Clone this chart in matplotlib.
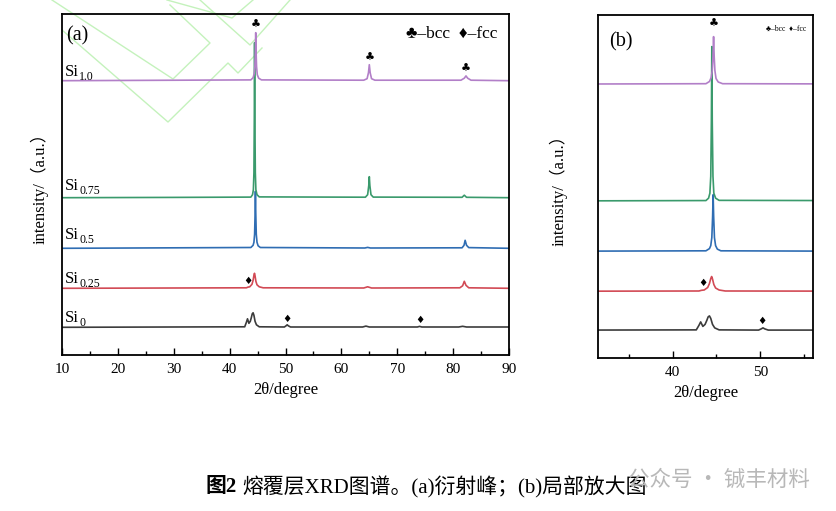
import numpy as np
import matplotlib.pyplot as plt
from matplotlib.ticker import MultipleLocator

plt.rcParams['font.family'] = ['Liberation Serif', 'Noto Sans CJK SC', 'DejaVu Sans']

# offsets of each pattern (arbitrary units, axis 0..341)
names = ['0', '0.25', '0.5', '0.75', '1.0']
offsets = [27.7, 66.7, 106.7, 157.3, 274.3]
colors = ['#3c3c3c', '#d24a55', '#2f6db3', '#3a9a6c', '#b27fc8']

# 2theta / intensity anchor points
x_si0 = [10, 42.7, 43.0, 43.2, 43.45, 43.7, 43.9, 44.05, 44.2, 44.35, 44.55, 44.8, 45.3, 49.8, 50.1, 50.3,
         50.5, 50.9, 63.8, 64.4, 65.0, 73.6, 74.0, 74.4, 81.0, 81.7, 82.4, 90]
y_si0 = [0, 0.5, 5, 8.5, 4, 6, 10, 13.5, 14.5, 12, 6, 2.5, 0.5, 0.3, 1.5, 2.5,
         1.5, 0.3, 0.3, 1.2, 0.3, 0.3, 0.9, 0.3, 0.3, 1, 0.3, 0.3]
x_si025 = [10, 43.0, 43.3, 43.6, 44.0, 44.2, 44.35, 44.45, 44.55, 44.7, 44.9, 45.3, 46, 64.0, 64.7, 65.4,
           81.2, 81.7, 82.0, 82.3, 82.8, 90]
y_si025 = [0, 0.5, 1.2, 1.5, 4, 8, 13, 15, 12.5, 7, 3.5, 1.5, 0.5, 0.3, 1.5, 0.3,
           0.5, 2.5, 7, 3, 0.5, 0]
x_si05 = [10, 43.8, 44.2, 44.35, 44.47, 44.56, 44.62, 44.68, 44.77, 44.9, 45.1, 45.5, 64.2, 64.7, 65.2,
          81.6, 81.95, 82.15, 82.4, 82.8, 90]
y_si05 = [0, 0.8, 3, 6, 14, 35, 57, 35, 14, 6, 2.5, 0.8, 0.3, 0.9, 0.3,
          0.5, 3, 8, 3, 0.7, 0]
x_si075 = [10, 30, 43.8, 44.1, 44.25, 44.35, 44.42, 44.47, 44.52, 44.6, 44.7, 44.9, 45.3, 64.3, 64.7,
           64.9, 65.0, 65.1, 65.3, 65.7, 81.6, 82.0, 82.4, 90]
y_si075 = [0, 0.3, 0.6, 3, 8, 25, 80, 155, 80, 25, 8, 3, 0.8, 0.5, 3,
           12, 21, 12, 3, 0.6, 0.4, 2.5, 0.4, 0]
x_si10 = [10, 43.8, 44.2, 44.4, 44.52, 44.6, 44.67, 44.74, 44.82, 44.95, 45.2, 45.7, 64.0, 64.6, 64.85,
          65.0, 65.15, 65.4, 66.0, 81.4, 82.0, 82.3, 82.6, 83.2, 90]
y_si10 = [0, 0.8, 3, 7, 14, 28, 48, 28, 14, 6, 2.5, 0.8, 0.5, 2, 8,
          16, 8, 2, 0.5, 0.5, 2.5, 4.8, 2.5, 0.5, 0]
xs = [x_si0, x_si025, x_si05, x_si075, x_si10]
ys = [y_si0, y_si025, y_si05, y_si075, y_si10]

# phase markers (2theta, height)
bcc_a = [(44.7, 330), (65.0, 297), (82.3, 286)]
fcc_a = [(43.3, 74), (50.3, 36), (74.0, 35)]
bcc_b = [(44.65, 335)]
fcc_b = [(43.4, 75), (50.2, 37)]

fig = plt.figure(figsize=(8.37, 5.11), dpi=100)

# faint watermark lines (figure pixels)
wm = [[(52, 0), (173, 79), (210, 43), (170, 5)],
      [(62, 30), (168, 122), (228, 63), (238, 73), (262, 48)],
      [(167, 0), (232, 18), (253, 0)],
      [(200, 0), (250, 45), (290, 0)]]
for pts in wm:
    px = [p[0] / 837 for p in pts]
    py = [1 - p[1] / 511 for p in pts]
    fig.add_artist(plt.Line2D(px, py, color='#c4f2bc', lw=1.0, zorder=0))

axa = fig.add_axes([62 / 837, 1 - 355 / 511, 447 / 837, 341 / 511])
axb = fig.add_axes([598 / 837, 1 - 358 / 511, 215 / 837, 343 / 511])
for ax in (axa, axb):
    ax.patch.set_alpha(0)
    for xv, yv, off, c in zip(xs, ys, offsets, colors):
        ax.plot(xv, np.array(yv) + off, color=c, lw=1.2)
    ax.set_ylim(0, 341)
    ax.set_yticks([])
    ax.tick_params(axis='x', which='both', direction='in', top=False, labelsize=11, pad=6)
    ax.tick_params(axis='x', which='major', length=5, width=1)
    ax.tick_params(axis='x', which='minor', length=3, width=1)
    for s in ax.spines.values():
        s.set_linewidth(1.3)
    ax.set_xlabel('2θ/degree', fontsize=12, labelpad=4)

axa.set_ylabel('intensity/（a.u.）', fontsize=12, labelpad=10)
axb.set_ylabel('intensity/（a.u.）', fontsize=12, labelpad=22)
axa.set_xlim(10, 90)
axa.xaxis.set_major_locator(MultipleLocator(10))
axa.xaxis.set_minor_locator(MultipleLocator(5))
axb.set_xlim(31.5, 56)
axb.set_ylim(0, 344)
axb.xaxis.set_major_locator(MultipleLocator(10))
axb.xaxis.set_minor_locator(MultipleLocator(5))

sym = ['DejaVu Sans']
for x, y in bcc_a:
    axa.text(x, y, '♣', family=sym, fontsize=8, ha='center', va='center')
for x, y in fcc_a:
    axa.text(x, y, '♦', family=sym, fontsize=7.5, ha='center', va='center')
for x, y in bcc_b:
    axb.text(x, y, '♣', family=sym, fontsize=8, ha='center', va='center')
for x, y in fcc_b:
    axb.text(x, y, '♦', family=sym, fontsize=7.5, ha='center', va='center')

# sample labels (baseline in figure pixels)
label_base = [322, 283, 239, 190, 76]
for n, lb in zip(names, label_base):
    t = axa.text(10.6, 355 - lb, 'Si', fontsize=12, ha='left', va='baseline')
    axa.annotate(n, xy=(1, 0), xycoords=t, xytext=(0, 0), textcoords='offset points',
                 fontsize=8.5, ha='left', va='baseline')

axa.text(0.01, 0.965, '(a)', transform=axa.transAxes, fontsize=14.5, ha='left', va='top')
axa.text(0.975, 0.965, '♣–bcc  ♦–fcc', transform=axa.transAxes, fontsize=12.5,
         ha='right', va='top', family=['Liberation Serif', 'DejaVu Sans'])
axb.text(0.05, 0.95, '(b)', transform=axb.transAxes, fontsize=14.5, ha='left', va='top')
axb.text(0.97, 0.97, '♣–bcc  ♦–fcc', transform=axb.transAxes, fontsize=5.5,
         ha='right', va='top', family=['Liberation Serif', 'DejaVu Sans'])

# caption
fig.text(206 / 837, 1 - 487 / 511, '图2', fontsize=15, fontweight='bold', ha='left', va='center')
fig.text(242 / 837, 1 - 487 / 511, '熔覆层XRD图谱。(a)衍射峰；(b)局部放大图', fontsize=15,
         ha='left', va='center')
fig.text(628 / 837, 1 - 480 / 511, '公众号 · 铖丰材料', fontsize=15.5, color='#b8b8b8',
         ha='left', va='center', family=['Noto Sans CJK SC'])

fig.savefig('out.png', dpi=100)
